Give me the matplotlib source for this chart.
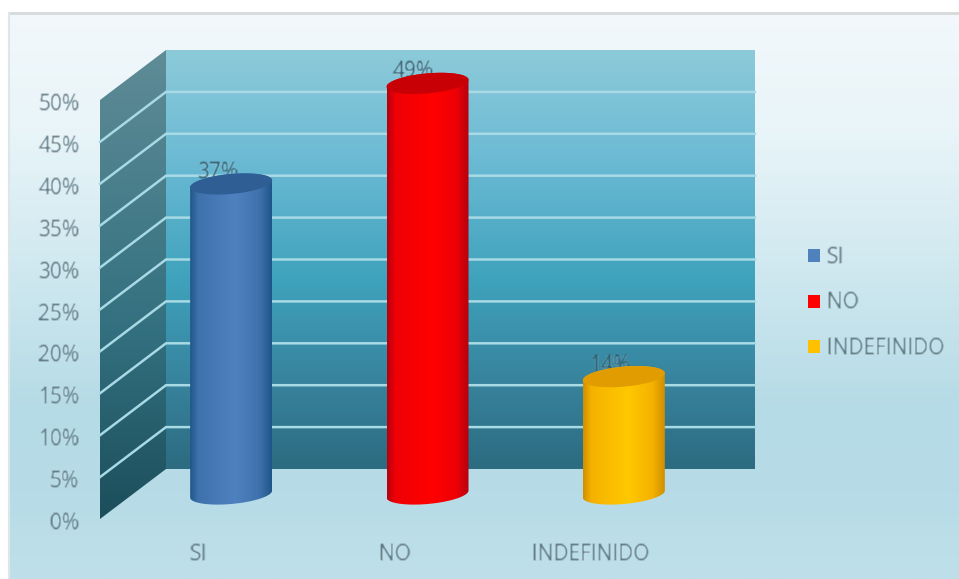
import matplotlib
matplotlib.use('Agg')
import matplotlib.pyplot as plt
from matplotlib.colors import LinearSegmentedColormap
from matplotlib.patches import Patch, PathPatch, Polygon
from matplotlib.path import Path
from matplotlib.transforms import ScaledTranslation
import numpy as np

categories = ["SI", "NO", "INDEFINIDO"]
values = [37, 49, 14]
value_labels = ["37%", "49%", "14%"]
tick_values = [0, 5, 10, 15, 20, 25, 30, 35, 40, 45, 50]
tick_labels = ["0%", "5%", "10%", "15%", "20%", "25%", "30%", "35%", "40%", "45%", "50%"]

W = 959
H = 579
TEXT_COLOR = "#56727f"
SIZE = 15

plt.rcParams['font.family'] = ['Open Sans', 'DejaVu Sans']


def Soften(img, dpi):
    # the reference is a blurry screenshot, so soften the text a bit
    pad = 3
    out = np.zeros((img.shape[0] + 2 * pad, img.shape[1] + 2 * pad, 4))
    out[pad:-pad, pad:-pad] = img
    kernel = np.array([1, 3, 1]) / 5.0
    for axis in (0, 1):
        out = np.apply_along_axis(lambda r: np.convolve(r.ravel(), kernel, mode="same"), axis, out)
    return out, -pad, -pad


def Gradient(colors):
    return LinearSegmentedColormap.from_list("g", colors)


fig = plt.figure(figsize=(W / 100, H / 100), dpi=100, facecolor="white")

# chart area background
bg = fig.add_axes([9 / W, 0, (W - 9) / W, (H - 13) / H])
bg.axis("off")
bg_cmap = Gradient([(0, "#f2f8fb"), (0.2, "#e9f5f9"), (0.42, "#d3eaf1"), (0.7, "#b5dbe6"), (0.85, "#b7dce7"), (1, "#bfe0ea")])
bg.imshow(np.linspace(0, 1, 256).reshape(-1, 1), cmap=bg_cmap, aspect="auto", extent=[0, 1, 0, 1])
bg.plot([0, 1], [1, 1], color="#d5d9da", lw=2, clip_on=False)
bg.plot([0, 0], [0, 1], color="#dde6e9", lw=1.5, clip_on=False)

# axes is the front plane of the 3d box
ax = fig.add_axes([100 / W, (H - 519) / H, 589 / W, 419 / H])
ax.patch.set_visible(False)
for spine in ax.spines.values():
    spine.set_visible(False)

x0 = -0.5
x1 = len(categories) - 0.5
ymax = tick_values[-1]
px_x = 589 / (x1 - x0)
px_y = 419 / ymax
dx = 66 / px_x
dy = 50 / px_y


def ClippedGradient(verts, extent, cmap, horizontal, zorder):
    patch = Polygon(verts, closed=True, transform=ax.transData, facecolor="none", edgecolor="none")
    ax.add_patch(patch)
    patch.set_clip_on(False)
    grad = np.linspace(0, 1, 256)
    grad = grad.reshape(1, -1) if horizontal else grad.reshape(-1, 1)
    im = ax.imshow(grad, cmap=cmap, aspect="auto", extent=extent, zorder=zorder, origin="lower")
    im.set_clip_path(patch)
    im.set_clip_box(fig.bbox)
    return im


# back wall
back_cmap = Gradient([(0, "#2c6b80"), (0.2, "#37829c"), (0.45, "#3fa2bc"), (0.75, "#6dbbd5"), (1, "#8ccad9")])
ClippedGradient([(x0 + dx, dy), (x1 + dx, dy), (x1 + dx, ymax + dy), (x0 + dx, ymax + dy)],
                [x0 + dx, x1 + dx, dy, ymax + dy], back_cmap, False, 1)

# left wall
side_cmap = Gradient([(0, "#1c4e5b"), (0.4, "#33707f"), (1, "#5f8c97")])
ClippedGradient([(x0, 0), (x0 + dx, dy), (x0 + dx, ymax + dy), (x0, ymax)],
                [x0, x0 + dx, 0, ymax + dy], side_cmap, False, 1)

# gridlines on both walls
for v in tick_values[1:-1]:
    ax.plot([x0, x0 + dx, x1 + dx], [v, v + dy, v + dy], color="#a8dae5", lw=1.8, zorder=2,
            clip_on=False, solid_joinstyle="miter")

# cylinders
bar_colors = [
    {"edge": "#1f5688", "side": "#3f72ac", "mid": "#4f81c0", "top": "#2f5e95"},
    {"edge": "#b4000f", "side": "#ee0006", "mid": "#ff0000", "top": "#c80006"},
    {"edge": "#cf8f00", "side": "#f5b200", "mid": "#ffc800", "top": "#e09c00"},
]
rx = 41 / px_x
ry = 10 / px_y
shear = 3.5 / px_y
for i, v in enumerate(values):
    cx = i + dx / 2
    base = dy / 2
    c = bar_colors[i]
    lower = np.linspace(np.pi, 2 * np.pi, 60)
    upper = np.linspace(0, np.pi, 60)
    side_pts = [(cx + rx * np.cos(t), base + ry * np.sin(t) + shear * np.cos(t)) for t in lower]
    side_pts += [(cx + rx * np.cos(t), base + v + ry * np.sin(t) + shear * np.cos(t)) for t in upper]
    cmap = Gradient([(0, c["edge"]), (0.1, c["side"]), (0.55, c["mid"]), (0.85, c["side"]), (1, c["edge"])])
    ClippedGradient(side_pts, [cx - rx, cx + rx, base - ry - shear, base + v + ry + shear], cmap, True, 4)

    t = np.linspace(0, 2 * np.pi, 120)
    top = Path(np.column_stack([cx + rx * np.cos(t), base + v + ry * np.sin(t) + shear * np.cos(t)]))
    ax.add_patch(PathPatch(top, facecolor=c["top"], edgecolor="none", zorder=5, clip_on=False))

    # value label sits partly behind the cylinder top
    label = ax.text(cx - 14 / px_x, base + v + 11.5 / px_y, value_labels[i], ha="center", va="center",
                    fontsize=SIZE, color="#33596a", zorder=3, clip_on=False)
    label.set_agg_filter(Soften)

ax.set_xlim(x0, x1)
ax.set_ylim(0, ymax)
ax.set_xticks(range(len(categories)))
ax.set_xticklabels(categories, fontsize=SIZE, color=TEXT_COLOR)
ax.set_yticks(tick_values)
ax.set_yticklabels(tick_labels, fontsize=SIZE, color=TEXT_COLOR)
ax.tick_params(axis="x", length=0, pad=18)
ax.tick_params(axis="y", length=0, pad=15)
for tick_label in ax.get_xticklabels() + ax.get_yticklabels():
    tick_label.set_agg_filter(Soften)
for tick_label in ax.get_yticklabels():
    tick_label.set_verticalalignment("center_baseline")
    # labels sit about 2px below their gridline in the reference
    tick_label.set_transform(tick_label.get_transform() + ScaledTranslation(0, -2 / 100, fig.dpi_scale_trans))

handles = [Patch(facecolor=c, edgecolor="none") for c in ["#4f81bd", "#ff0000", "#ffc000"]]
leg = fig.legend(handles, categories, loc="center left", bbox_to_anchor=(808 / W, (H - 303) / H), frameon=False,
                 fontsize=SIZE, labelcolor=TEXT_COLOR, handlelength=0.575, handleheight=0.575,
                 handletextpad=0.34, labelspacing=1.17, borderpad=0, borderaxespad=0)
for text in leg.get_texts():
    text.set_agg_filter(Soften)

plt.savefig("out.png", dpi=100)
